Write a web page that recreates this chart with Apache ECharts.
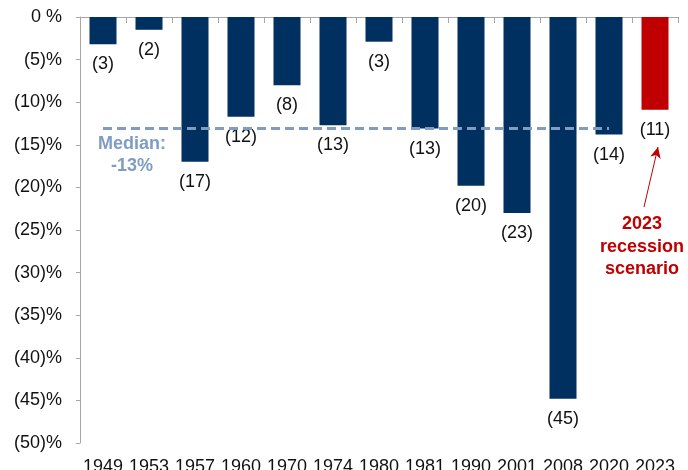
<!DOCTYPE html>
<html>
<head>
<meta charset="utf-8">
<script src="https://cdn.jsdelivr.net/npm/echarts@6/dist/echarts.min.js"></script>
<style>
  html, body { margin: 0; padding: 0; background: #fff; }
  #chart { width: 688px; height: 470px; }
</style>
</head>
<body>
<div id="chart"></div>
<script>
var years = ['1949', '1953', '1957', '1960', '1970', '1974', '1980', '1981', '1990', '2001', '2008', '2020', '2023'];
var drawdowns = [-3.2, -1.5, -17, -11.7, -8, -12.7, -2.9, -13.1, -19.8, -23, -44.8, -13.8, -10.9];
var medianValue = -13;
var navy = '#00305f';
var red = '#c00000';
var medianColor = '#7f9cc2';
var font = 'Arial, "Liberation Sans", sans-serif';

var barData = drawdowns.map(function(v, i) {
    return {
        value: v,
        itemStyle: { color: i === drawdowns.length - 1 ? red : navy }
    };
});

var chart = echarts.init(document.getElementById('chart'));

var option = {
    animation: false,
    textStyle: { fontFamily: font },
    grid: { left: 80, right: 10, top: 17, bottom: 27, outerBoundsMode: 'none' },
    xAxis: [{
        type: 'category',
        position: 'top',
        data: years,
        axisLine: { show: true, lineStyle: { color: '#a6a6a6', width: 1 } },
        axisTick: { show: true, inside: true, length: 6, lineStyle: { color: '#a6a6a6' } },
        axisLabel: { show: false }
    }, {
        type: 'category',
        position: 'bottom',
        data: years,
        axisLine: { show: false },
        axisTick: { show: false },
        axisLabel: { color: '#111', fontSize: 18, margin: 15, interval: 0, hideOverlap: false, fontFamily: font }
    }],
    yAxis: {
        type: 'value',
        min: -50,
        max: 0,
        interval: 5,
        splitLine: { show: false },
        axisLine: { show: true, lineStyle: { color: '#a6a6a6' } },
        axisTick: { show: true, length: 4, lineStyle: { color: '#a6a6a6' } },
        axisLabel: {
            color: '#111',
            fontSize: 18,
            margin: 18,
            fontFamily: font,
            formatter: function(v) {
                return v === 0 ? '0 %' : '(' + (-v) + ')%';
            }
        }
    },
    series: [{
        type: 'bar',
        xAxisIndex: 0,
        data: barData,
        barWidth: 27,
        label: {
            show: true,
            position: 'bottom',
            distance: 11,
            color: '#111',
            fontSize: 18,
            fontFamily: font,
            formatter: function(p) {
                return '(' + Math.round(-p.value) + ')';
            }
        },
        markLine: {
            silent: true,
            symbol: ['none', 'none'],
            label: { show: false },
            data: [
                [
                    { coord: [years[0], medianValue], lineStyle: { color: medianColor, width: 3, type: [9, 5] } },
                    { coord: [years[years.length - 2], medianValue] }
                ]
            ]
        }
    }, {
        type: 'line',
        data: [],
        markLine: {
            silent: true,
            symbol: ['none', 'arrow'],
            symbolSize: [8, 11],
            label: { show: false },
            lineStyle: { color: red, width: 1, type: 'solid' },
            data: [
                [{ x: 644, y: 207 }, { x: 658, y: 147 }]
            ]
        }
    }],
    graphic: [{
        type: 'text',
        x: 132,
        y: 133,
        style: {
            text: 'Median:\n-13%',
            fill: medianColor,
            font: 'bold 18px ' + font,
            align: 'center',
            lineHeight: 22
        }
    }, {
        type: 'text',
        x: 642,
        y: 213,
        style: {
            text: '2023\nrecession\nscenario',
            fill: red,
            font: 'bold 18px ' + font,
            align: 'center',
            lineHeight: 22.5
        }
    }]
};

chart.setOption(option);
</script>
</body>
</html>
